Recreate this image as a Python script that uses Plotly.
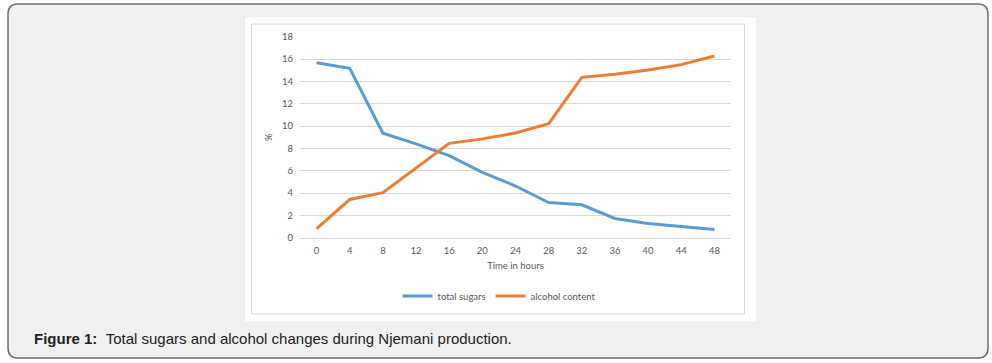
import plotly.graph_objects as go

hours = [0, 4, 8, 12, 16, 20, 24, 28, 32, 36, 40, 44, 48]
total_sugars = [15.67, 15.17, 9.35, 8.4, 7.35, 5.85, 4.63, 3.15, 2.95, 1.72, 1.28, 1.0, 0.74]
alcohol_content = [0.82, 3.42, 4.03, 6.2, 8.45, 8.85, 9.38, 10.22, 14.36, 14.63, 15.02, 15.5, 16.27]
y_ticks = [0, 2, 4, 6, 8, 10, 12, 14, 16, 18]

W, H = 992, 363

def px(x):
    return x / W

def py(y):
    return 1 - y / H

fig = go.Figure()
fig.add_trace(go.Scatter(x=hours, y=total_sugars, mode="lines", name="total sugars",
                         line=dict(color="#5B9BD5", width=3)))
fig.add_trace(go.Scatter(x=hours, y=alcohol_content, mode="lines", name="alcohol content",
                         line=dict(color="#ED7D31", width=3)))

def rr(x0, y0, x1, y1, r):
    pts = [
        f"M {px(x0 + r)},{py(y0)}",
        f"L {px(x1 - r)},{py(y0)}",
        f"Q {px(x1)},{py(y0)} {px(x1)},{py(y0 + r)}",
        f"L {px(x1)},{py(y1 - r)}",
        f"Q {px(x1)},{py(y1)} {px(x1 - r)},{py(y1)}",
        f"L {px(x0 + r)},{py(y1)}",
        f"Q {px(x0)},{py(y1)} {px(x0)},{py(y1 - r)}",
        f"L {px(x0)},{py(y0 + r)}",
        f"Q {px(x0)},{py(y0)} {px(x0 + r)},{py(y0)}",
        "Z",
    ]
    return " ".join(pts)

shapes = [
    dict(type="path", path=rr(8, 4, 988, 358, 10), xref="paper", yref="paper",
         fillcolor="#f0f0f0", line=dict(color="#6e6e6e", width=1.5), layer="below"),
    dict(type="rect", x0=px(245), x1=px(756), y0=py(321), y1=py(17), xref="paper", yref="paper",
         fillcolor="#ffffff", line=dict(width=0), layer="below"),
    dict(type="rect", x0=px(251.5), x1=px(744.5), y0=py(314), y1=py(24), xref="paper", yref="paper",
         fillcolor="rgba(0,0,0,0)", line=dict(color="#d9d9d9", width=1), layer="below"),
]

tick_font = dict(family="Lato, Liberation Sans, sans-serif", size=9.5, color="#595959")

fig.update_layout(
    width=W, height=H, autosize=False,
    margin=dict(l=0, r=0, t=0, b=0, autoexpand=False),
    paper_bgcolor="#ffffff",
    plot_bgcolor="rgba(0,0,0,0)",
    shapes=shapes,
    showlegend=True,
    legend=dict(orientation="h", x=px(499), xanchor="center", y=py(296), yanchor="middle",
                font=dict(family="Lato, Liberation Sans, sans-serif", size=9.5, color="#595959"),
                bgcolor="rgba(0,0,0,0)", itemwidth=30, tracegroupgap=0),
    xaxis=dict(domain=[px(300), px(731)], range=[-2, 50], tickvals=hours,
               ticktext=[str(h) for h in hours], showgrid=False, zeroline=False,
               showline=True, linecolor="#d9d9d9", linewidth=1, ticks="",
               tickfont=tick_font, automargin=False, ticklabelstandoff=4,
               title=dict(text="Time in hours", font=tick_font, standoff=7)),
    yaxis=dict(domain=[py(237.7), py(36.7)], range=[0, 18], tickvals=y_ticks,
               showgrid=True, gridcolor="#d9d9d9", gridwidth=1, zeroline=False,
               showline=False, ticks="", tickfont=tick_font, automargin=False,
               ticklabelstandoff=6,
               title=dict(text="%", font=tick_font, standoff=7)),
    annotations=[
        dict(x=px(32), y=py(338), xref="paper", yref="paper", xanchor="left", yanchor="middle",
             showarrow=False,
             text="<b>Figure 1:</b>&nbsp;&nbsp;Total sugars and alcohol changes during Njemani production.",
             font=dict(family="Liberation Sans, Arial, sans-serif", size=15, color="#222222")),
    ],
)

fig.write_html("out.html",
               config={"displayModeBar": False, "responsive": False},
               post_script="document.body.style.margin='0';document.body.style.overflow='hidden';")
